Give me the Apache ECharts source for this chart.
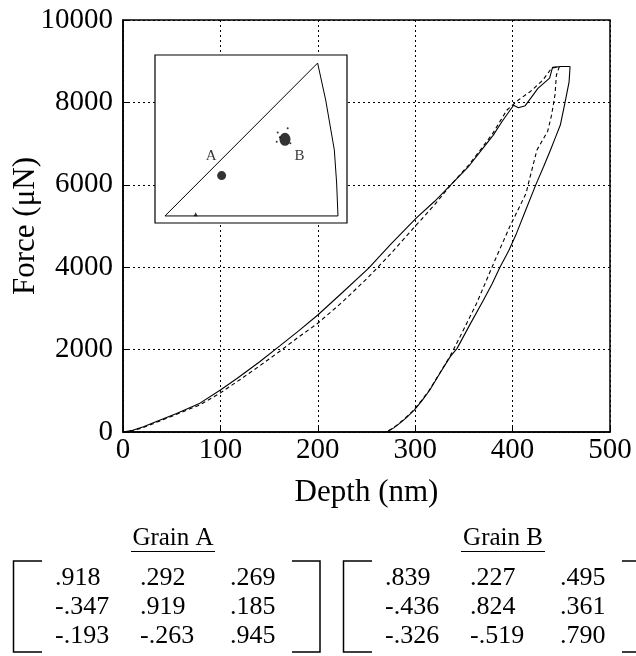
<!DOCTYPE html>
<html>
<head>
<meta charset="utf-8">
<script src="https://cdn.jsdelivr.net/npm/echarts@6/dist/echarts.min.js"></script>
<style>
html,body{margin:0;padding:0;background:#fff;}
#chart{width:636px;height:656px;}
</style>
</head>
<body>
<div id="chart"></div>
<script>
// ---- Data (depth nm, force µN) ----
const loadSolid = [[0,0],[10,40],[21,125],[35,260],[55,450],[79,700],[100,1020],[117,1300],[140,1700],[161,2090],[180,2450],[200,2840],[225,3380],[252,3970],[275,4560],[301,5190],[320,5600],[337,6010],[355,6450],[368,6840],[380,7200],[389,7530],[401,7930],[406,7870],[413,7920],[426,8340],[438,8590],[441,8850],[450,8870],[459,8870]];
const unloadSolid = [[459,8870],[458,8500],[454,8020],[449,7450],[444,7150],[439,6850],[432,6450],[424,6010],[414,5420],[404,4820],[396,4400],[387,4000],[379,3600],[370,3200],[356,2600],[343,2030],[336,1830],[326,1450],[315,1020],[307,760],[299,530],[291,350],[284,210],[278,100],[272,20],[270,0]];
const loadDashed = [[0,0],[10,30],[21,110],[35,240],[55,430],[79,660],[100,950],[120,1270],[140,1600],[161,1960],[180,2300],[200,2640],[225,3150],[252,3760],[275,4330],[301,5020],[320,5520],[337,6010],[355,6480],[368,6880],[380,7260],[394,7810],[406,8060],[418,8260],[431,8540],[440,8830],[448,8870]];
const unloadDashed = [[448,8870],[445,8665],[443.5,8180],[440,7690],[436,7300],[425,6845],[416,6010],[414,5800],[397,4980],[382,4175],[363,3120],[346,2310],[336,1850],[325,1420],[314,1000],[306,750],[298,520],[290,340],[283,200],[277,90],[271,15],[269,0]];
const xTicks = [0,100,200,300,400,500];
const yTicks = [0,2000,4000,6000,8000,10000];

// ---- Inset (stereographic triangle, 0-100 units) ----
const insetOutline = [[5.2,4.2],[84.7,95.2],[88.9,73.2],[93.4,43.5],[94.6,23.8],[95.3,4.2],[5.2,4.2]];
const insetDotA = [[34.7,28.2]];
const insetDotB = [[67.7,49.8]];
const insetSpecks = [[63.9,53.8],[69.1,56.4],[63.4,48.4],[65,51],[70.5,47.5]];
const insetMark = [[21.2,5.2]];
const insetLabelNames = ['A','B'];
const insetLabelPos = [[29.2,39.9],[75.2,39.9]];

// ---- Orientation matrices ----
const grainTitles = ['Grain A','Grain B'];
const matrixA = [['.918','.292','.269'],['-.347','.919','.185'],['-.193','-.263','.945']];
const matrixB = [['.839','.227','.495'],['-.436','.824','.361'],['-.326','-.519','.790']];
const matrices = [matrixA, matrixB];

const FONT = "'Liberation Serif','DejaVu Serif',serif";

const graphics = [];
matrices.forEach((m, g) => {
  const ox = g * 330;
  graphics.push({type:'text', x:173+ox, y:538, style:{text:grainTitles[g], font:'25px '+FONT, fill:'#000', textAlign:'center', textVerticalAlign:'middle'}});
  graphics.push({type:'line', shape:{x1:131+ox, y1:551.5, x2:215+ox, y2:551.5}, style:{stroke:'#000', lineWidth:1.2}});
  const colX = [55, 140, 230];
  m.forEach((row, r) => {
    row.forEach((v, c) => {
      graphics.push({type:'text', x:colX[c]+ox, y:578+r*29, style:{text:v, font:'26px '+FONT, fill:'#000', textAlign:'left', textVerticalAlign:'middle'}});
    });
  });
  graphics.push({type:'polyline', shape:{points:[[42+ox,561],[13.5+ox,561],[13.5+ox,652],[42+ox,652]]}, style:{stroke:'#000', lineWidth:1.5, fill:null}});
  graphics.push({type:'polyline', shape:{points:[[292+ox,561],[320+ox,561],[320+ox,652],[292+ox,652]]}, style:{stroke:'#000', lineWidth:1.5, fill:null}});
});

const chart = echarts.init(document.getElementById('chart'), null, {renderer:'canvas'});
const option = {
  backgroundColor:'#fff',
  animation:false,
  textStyle:{fontFamily:FONT},
  grid:[
    {left:123, top:20, width:487, height:412, show:true, borderColor:'#000', borderWidth:1.5, backgroundColor:'transparent', z:0, containLabel:false, outerBoundsMode:'none'},
    {left:155, top:55, width:192, height:168, show:true, borderColor:'#000', borderWidth:1.2, backgroundColor:'#fff', z:10, containLabel:false, outerBoundsMode:'none'}
  ],
  xAxis:[
    {type:'value', gridIndex:0, min:xTicks[0], max:xTicks[xTicks.length-1], interval:100, z:1,
     name:'Depth (nm)', nameLocation:'middle', nameGap:45, nameMoveOverlap:false,
     nameTextStyle:{fontSize:31, color:'#000', fontFamily:FONT},
     axisLine:{show:true, onZero:false, lineStyle:{color:'#000', width:1.5}},
     axisTick:{show:true, inside:true, length:5, lineStyle:{color:'#000'}},
     axisLabel:{fontSize:29, color:'#000', margin:4, fontFamily:FONT, formatter:(v)=>String(v)},
     splitLine:{show:true, lineStyle:{color:'#000', width:1, type:[2,3]}}},
    {type:'value', gridIndex:1, min:0, max:100, show:false, z:11}
  ],
  yAxis:[
    {type:'value', gridIndex:0, min:yTicks[0], max:yTicks[yTicks.length-1], interval:2000, z:1,
     name:'Force (μN)', nameLocation:'middle', nameGap:82, nameMoveOverlap:false,
     nameTextStyle:{fontSize:31, color:'#000', fontFamily:FONT},
     axisLine:{show:true, onZero:false, lineStyle:{color:'#000', width:1.5}},
     axisTick:{show:true, inside:true, length:5, lineStyle:{color:'#000'}},
     axisLabel:{fontSize:29, color:'#000', margin:10, fontFamily:FONT, formatter:(v)=>String(v)},
     splitLine:{show:true, lineStyle:{color:'#000', width:1, type:[2,3]}}},
    {type:'value', gridIndex:1, min:0, max:100, show:false, z:11}
  ],
  series:[
    {type:'line', xAxisIndex:0, yAxisIndex:0, data:loadSolid, showSymbol:false, symbol:'none', z:3,
     lineStyle:{color:'#000', width:1.1}},
    {type:'line', xAxisIndex:0, yAxisIndex:0, data:unloadSolid, showSymbol:false, symbol:'none', z:3,
     lineStyle:{color:'#000', width:1.1}},
    {type:'line', xAxisIndex:0, yAxisIndex:0, data:loadDashed, showSymbol:false, symbol:'none', z:3,
     lineStyle:{color:'#000', width:1.1, type:[4,3]}},
    {type:'line', xAxisIndex:0, yAxisIndex:0, data:unloadDashed, showSymbol:false, symbol:'none', z:3,
     lineStyle:{color:'#000', width:1.1, type:[4,3]}},
    {type:'line', xAxisIndex:1, yAxisIndex:1, data:insetOutline, showSymbol:false, symbol:'none', z:12,
     lineStyle:{color:'#000', width:1}},
    {type:'scatter', xAxisIndex:1, yAxisIndex:1, data:insetDotA, symbol:'circle', symbolSize:9, z:12,
     itemStyle:{color:'#000'}},
    {type:'scatter', xAxisIndex:1, yAxisIndex:1, data:insetDotB, symbol:'circle', symbolSize:[11,13], z:12,
     itemStyle:{color:'#000'}},
    {type:'scatter', xAxisIndex:1, yAxisIndex:1, data:insetSpecks, symbol:'circle', symbolSize:2, z:12,
     itemStyle:{color:'#000'}},
    {type:'scatter', xAxisIndex:1, yAxisIndex:1, data:insetMark, symbol:'triangle', symbolSize:4, z:12,
     itemStyle:{color:'#000'}},
    {type:'scatter', xAxisIndex:1, yAxisIndex:1, symbolSize:0, z:12,
     data:insetLabelNames.map((n,i)=>({name:n, value:insetLabelPos[i]})),
     label:{show:true, position:'inside', formatter:'{b}', fontSize:15, color:'#000', fontFamily:FONT}}
  ],
  graphic:graphics
};
chart.setOption(option);
</script>
</body>
</html>
